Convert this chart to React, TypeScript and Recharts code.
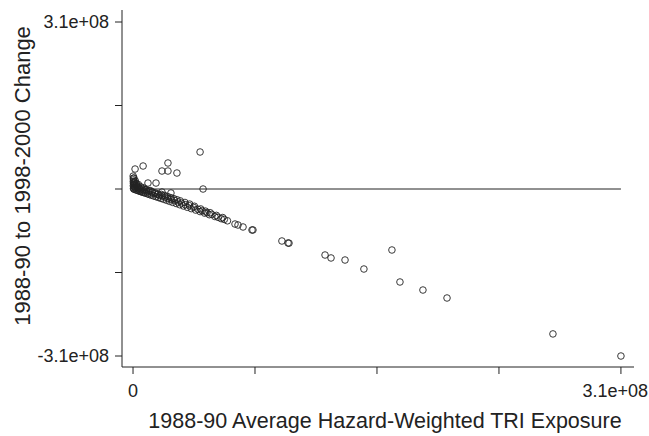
import React from 'react';
import { ScatterChart, Scatter, XAxis, YAxis, ReferenceLine } from 'recharts';

// values in millions: x = 1988-90 exposure, y = change to 1998-2000
const clusterX = [
  0.1, 0.2, 0.3, 0.2, 0.4, 0.3, 0.5, 0.2, 0.6, 0.4, 0.3, 0.8, 1.0, 1.2, 1.1, 1.5, 1.8, 2.0, 2.4, 2.6,
  3.0, 3.3, 3.6, 4.0, 4.4, 4.8, 5.2, 5.6, 6.0, 6.5, 7.0, 7.5, 8.0, 8.6, 9.2, 9.8, 10.4, 11, 11.6, 12.3,
  13, 13.8, 14.5, 15.3, 16.1, 17, 17.8, 18.6, 19.5, 20.4, 21.3, 22.2, 23.2, 24.2, 25.2, 26.3, 27.4, 28.5,
  29.6, 30.8, 32, 33.2, 34.5, 35.8, 37, 38.4, 39.8, 41.2, 42.6, 44, 45.5, 47, 48.5, 50, 52, 54, 56, 58, 60,
];
const clusterY = [
  24, 20, 17, 14, 12, 10, 8, 6, 4, 2, 0.5, -0.6, 13, 9, 5, 2, -1.5, 7, 3, -2.4,
  5, 0.5, -3.5, 2, -4.3, -1, -5, 1.5, -6, -2.5, -6.8, -1, -7.8, -4, -9, -5.5, -10.2, -3, -11.4, -7,
  -12.8, -8.5, -14.2, -10, -15.8, -12, -17.5, -13, -19.1, -15, -20.9, -17.5, -22.8, -19, -24.8, -21, -26.9, -24,
  -29.1, -26, -31.5, -29, -33.9, -31, -36.4, -34, -39.1, -37.5, -41.9, -40.5, -44.8, -44, -47.7, -47, -51, -52.5, -55, -56.5, -59,
];
const bandX = [1.5, 2.2, 3.5, 5, 6.8, 8.3, 10, 12, 14, 16, 18, 20, 22, 24, 26, 28, 30, 33, 36, 39, 43, 46, 49, 53, 57];
const bandY = [15, 10, 8, 4, 2, -1, -3, -5, -7, -9, -10, -12, -14, -16, -18, -20, -22, -25, -28, -32, -37, -41, -44, -49, -53];
const outlierX = [42.6, 44.5, 22.2, 18.4, 22.2, 27.9, 1.3, 6.4, 9.5, 14.6, 0.6, 24.1, 18.4];
const outlierY = [68.7, 0, 48.3, 33.4, 33.4, 29.7, 37.1, 42.7, 11.1, 11.1, 20.4, -7.4, -5.6];
const tailX = [64.8, 66.7, 69.9, 75.6, 76.2, 94.6, 98.5, 99.1, 122, 125.8, 134.7, 146.7, 164.5, 169.6, 184.2, 199.5, 266.8, 310];
const tailY = [-65, -66.8, -70.5, -76.1, -76, -96.5, -100.2, -100.5, -122.5, -128, -131.8, -148.5, -113.2, -172.6, -187.5, -202.3, -269, -310];

const xTicks = [0, 77.5, 155, 232.5, 310];
const yTicks = [-310, -155, 0, 155, 310];
const xTickLabels: Record<number, string> = { 0: '0', 310: '3.1e+08' };
const yTickLabels: Record<number, string> = { [-310]: '-3.1e+08', 310: '3.1e+08' };

const points = [
  ...clusterX.map((x, i) => ({ x, y: clusterY[i] })),
  ...bandX.map((x, i) => ({ x, y: bandY[i] })),
  ...outlierX.map((x, i) => ({ x, y: outlierY[i] })),
  ...tailX.map((x, i) => ({ x, y: tailY[i] })),
];

const font = '"Liberation Sans", Arial, sans-serif';
const ink = '#222';

const Hollow = (p: any) => (
  <circle cx={p.cx} cy={p.cy} r={3.3} fill="none" stroke={ink} strokeWidth={0.9} />
);

// last x label sits a bit left so it stays inside the picture
const XTick = (p: any) => {
  const label = xTickLabels[p.payload.value] ?? '';
  const last = p.payload.value === 310;
  return (
    <text x={last ? 648 : p.x} y={p.y} dy="0.71em" textAnchor={last ? 'end' : 'middle'}
      fontSize={18} fontFamily={font} fill={ink}>
      {label}
    </text>
  );
};

const YTitle = () => (
  <text x={22} y={176} transform="rotate(-90 22 176)" textAnchor="middle" dominantBaseline="central"
    fontSize={22} fontFamily={font} fill={ink}>
    1988-90 to 1998-2000 Change
  </text>
);

const XTitle = () => (
  <text x={385} y={428} textAnchor="middle" fontSize={21.5} fontFamily={font} fill={ink}>
    1988-90 Average Hazard-Weighted TRI Exposure
  </text>
);

export default function App() {
  return (
    <div style={{ position: 'absolute', left: 0, top: 0, background: '#fff' }}>
      <ScatterChart width={649} height={436} margin={{ top: 10, right: 15, bottom: 0, left: 0 }}>
        <XAxis
          type="number"
          dataKey="x"
          domain={[-7, 318.3]}
          ticks={xTicks}
          height={69}
          tickSize={7}
          tickMargin={10}
          stroke={ink}
          tick={<XTick />}
          allowDataOverflow
          label={<XTitle />}
        />
        <YAxis
          type="number"
          dataKey="y"
          domain={[-330.4, 332.3]}
          ticks={yTicks}
          tickFormatter={(v: number) => yTickLabels[v] ?? ''}
          width={122}
          tickSize={7}
          tickMargin={6}
          stroke={ink}
          tick={{ fontSize: 18, fontFamily: font, fill: ink }}
          allowDataOverflow
          label={<YTitle />}
        />
        <ReferenceLine segment={[{ x: 0, y: 0 }, { x: 310, y: 0 }]} stroke={ink} strokeWidth={1} />
        <Scatter data={points} shape={<Hollow />} isAnimationActive={false} />
      </ScatterChart>
    </div>
  );
}
